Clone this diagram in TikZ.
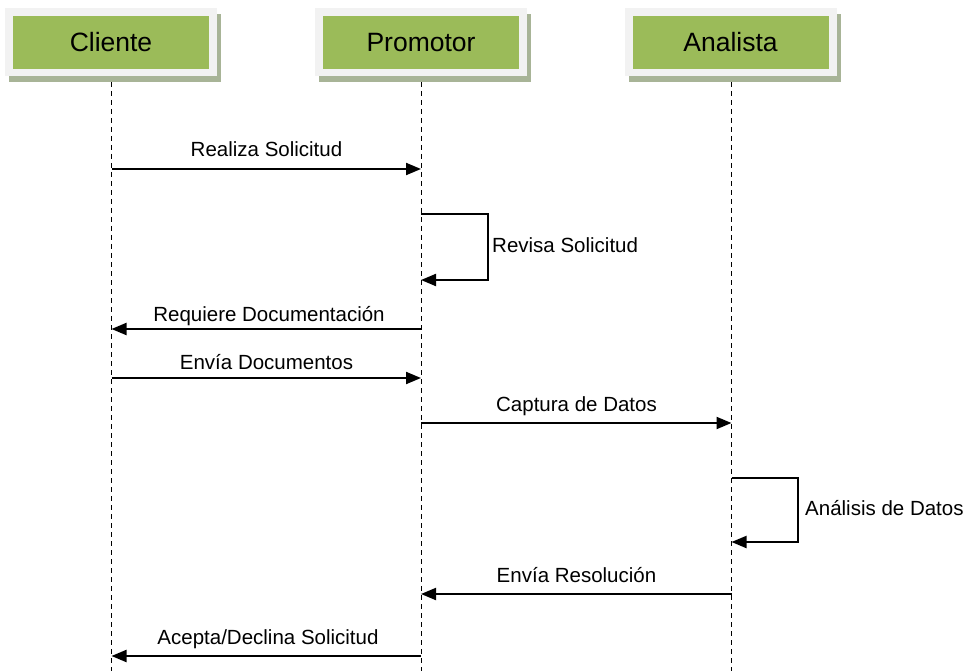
\documentclass[tikz,border=0pt]{standalone}
\usepackage{fontspec}
\setmainfont{Liberation Sans}
\usetikzlibrary{arrows.meta}
\definecolor{hdrgreen}{HTML}{9BBB59}
\definecolor{hdrouter}{HTML}{F2F2F2}
\definecolor{hdrshadow}{HTML}{A8B497}
\tikzset{
  hdr/.style={fill=hdrgreen, minimum width=196pt, minimum height=53pt, inner sep=0pt, font=\fontsize{26.5}{30}\selectfont},
  lifeline/.style={line width=1pt, dash pattern=on 5pt off 4pt},
  msg/.style={line width=2pt, -{Triangle[length=15pt,width=12pt]}},
  lbl/.style={anchor=base, inner sep=0pt, font=\fontsize{20.5}{24}\selectfont},
  lbll/.style={anchor=base west, inner sep=0pt, font=\fontsize{20.5}{24}\selectfont}
}
\begin{document}
\begin{tikzpicture}[x=1pt,y=-1pt]
\useasboundingbox (0,0) rectangle (969,671);
% header boxes
\foreach \cx in {111,421,730.5}{
  \fill[hdrshadow] (\cx-102,14) rectangle (\cx+110,82);
  \fill[hdrouter] (\cx-106,8) rectangle (\cx+106,76);
}
\node[hdr] (cli) at (111,42.5) {Cliente};
\node[hdr] (pro) at (421,42.5) {Promotor};
\node[hdr] (ana) at (730.5,42.5) {Analista};
% lifeline ends
\coordinate (cliT) at (111.5,82);
\coordinate (proT) at (421,82);
\coordinate (anaT) at (731.5,82);
\coordinate (cliB) at (111.5,671);
\coordinate (proB) at (421,671);
\coordinate (anaB) at (731.5,671);
\draw[lifeline] (cliT) -- (cliB);
\draw[lifeline] (proT) -- (proB);
\draw[lifeline] (anaT) -- (anaB);
% message points
\coordinate (c1) at (111.5,169);  \coordinate (p1) at (421,169);
\coordinate (p2a) at (421,214);   \coordinate (p2b) at (421,280);
\coordinate (p3) at (421,329);    \coordinate (c3) at (111.5,329);
\coordinate (c4) at (111.5,378);  \coordinate (p4) at (421,378);
\coordinate (p5) at (421,423);    \coordinate (a5) at (731.5,423);
\coordinate (a6a) at (731.5,478); \coordinate (a6b) at (731.5,542);
\coordinate (a7) at (731.5,594);  \coordinate (p7) at (421,594);
\coordinate (p8) at (421,656);    \coordinate (c8) at (111.5,656);
% messages
\draw[msg] (c1) -- (p1);
\node[lbl] (l1) at (266.5,157) {Realiza Solicitud};
\draw[msg] (p2a) -- ++(67,0) |- (p2b);
\node[lbll] (l2) at (492,252) {Revisa Solicitud};
\draw[msg] (p3) -- (c3);
\node[lbl] (l3) at (269,321) {Requiere Documentación};
\draw[msg] (c4) -- (p4);
\node[lbl] (l4) at (266.5,369) {Envía Documentos};
\draw[msg] (p5) -- (a5);
\node[lbl] (l5) at (576.5,411) {Captura de Datos};
\draw[msg] (a6a) -- ++(66,0) |- (a6b);
\node[lbll] (l6) at (805,515) {Análisis de Datos};
\draw[msg] (a7) -- (p7);
\node[lbl] (l7) at (576.5,582) {Envía Resolución};
\draw[msg] (p8) -- (c8);
\node[lbl] (l8) at (268,644) {Acepta/Declina Solicitud};
\end{tikzpicture}
\end{document}
